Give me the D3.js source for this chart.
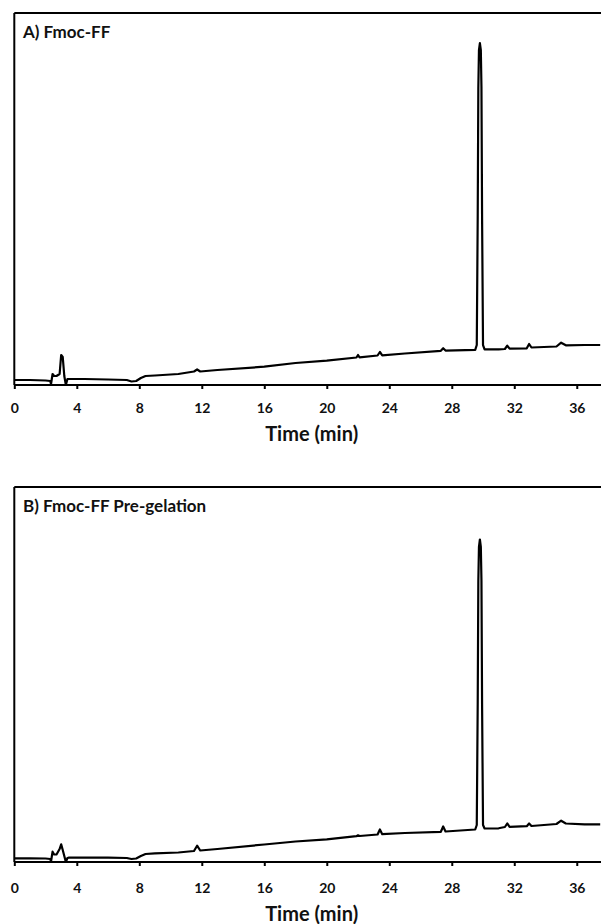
<!DOCTYPE html>
<html>
<head>
<meta charset="utf-8">
<script src="https://cdn.jsdelivr.net/npm/d3@7"></script>
<style>
  html, body { margin: 0; padding: 0; background: #fff; }
  svg { display: block; }
  text { font-family: Lato, "Open Sans", "Liberation Sans", sans-serif; font-weight: bold; fill: #111; }
</style>
</head>
<body>
<svg id="chart" width="601" height="924"></svg>
<script>
// ---- Data (retention time in min, detector signal in % of panel height) ----
const times = [0, 1.0, 2.0, 2.3, 2.35, 2.45, 2.55, 2.7, 2.9, 3.0, 3.1, 3.2, 3.3, 3.4, 3.5, 4.5, 6.0, 7.2, 7.5, 7.8,
  8.1, 8.4, 9.0, 10.5, 11.5, 11.7, 11.9, 13, 16, 18, 20, 21.9, 22.0, 22.1, 23.25, 23.4, 23.55, 25, 27.3, 27.45,
  27.6, 29.5, 29.6, 29.66, 29.7, 29.74, 29.8, 29.86, 29.9, 29.94, 30.0, 30.1, 31, 31.4, 31.55, 31.7, 32.8, 32.95, 33.1,
  34.7, 35.0, 35.3, 36.5, 37.5];

const signalA = [1.34, 1.34, 1.21, 1.08, 0.27, 2.96, 2.42, 2.42, 2.96, 8.06, 7.53, 2.42, 0, 1.61, 1.61, 1.61, 1.48, 1.34, 0.94, 1.08,
  1.88, 2.42, 2.55, 2.96, 3.63, 4.17, 3.63, 4.03, 4.92, 5.91, 6.53, 7.39, 8.06, 7.45, 7.93, 8.87, 7.98, 8.47, 9.19, 9.87,
  9.25, 9.46, 10.75, 45.0, 80.0, 90.0, 91.9, 90.0, 80.0, 45.0, 10.75, 9.6, 9.6, 9.68, 10.56, 9.76, 9.87, 11.02, 10.08,
  10.35, 11.37, 10.67, 10.75, 10.75];

const signalB = [0.99, 0.99, 0.93, 0.8, 0.13, 2.75, 2.0, 2.0, 3.47, 4.72, 3.2, 1.6, 0, 1.07, 1.15, 1.15, 1.15, 1.07, 0.8, 0.93,
  1.6, 2.13, 2.32, 2.53, 2.93, 4.35, 3.07, 3.47, 4.67, 5.47, 6.05, 6.88, 7.12, 6.93, 7.33, 8.67, 7.41, 7.73, 8.05, 9.47,
  8.13, 8.67, 9.87, 42.0, 75.0, 84.0, 86.0, 84.0, 75.0, 42.0, 9.87, 8.93, 8.99, 9.33, 10.27, 9.39, 9.55, 10.27, 9.6,
  10.13, 11.01, 10.27, 10.05, 10.05];

const tickValues = [0, 4, 8, 12, 16, 20, 24, 28, 32, 36];
const tickLabels = ["0", "4", "8", "12", "16", "20", "24", "28", "32", "36"];
const panelTitles = ["A) Fmoc-FF", "B) Fmoc-FF Pre-gelation"];
const xLabel = "Time (min)";

// ---- Layout ----
const svg = d3.select("#chart");
const W = 601;
const left = 14.3, right = 600.2;
const panels = [
  { title: panelTitles[0], values: signalA, top: 13, bottom: 385, pad: 14, labelOff: 56 },
  { title: panelTitles[1], values: signalB, top: 487, bottom: 862, pad: 17, labelOff: 59 }
];

const x = d3.scaleLinear().domain([0, 37.5]).range([left, right]);

panels.forEach((p, i) => {
  const g = svg.append("g");
  const y = d3.scaleLinear().domain([0, 100]).range([p.bottom, p.top]);

  const clipId = "clip" + i;
  svg.append("clipPath").attr("id", clipId)
    .append("rect").attr("x", left).attr("y", p.top - 2).attr("width", W - left).attr("height", p.bottom - p.top + 2);

  // trace
  const data = times.map((t, k) => [t, p.values[k]]);
  const line = d3.line().x(d => x(d[0])).y(d => y(d[1])).curve(d3.curveLinear);
  g.append("path")
    .datum(data)
    .attr("clip-path", `url(#${clipId})`)
    .attr("d", line)
    .attr("fill", "none")
    .attr("stroke", "#000")
    .attr("stroke-width", 2.2)
    .attr("stroke-linejoin", "round");

  // frame: top and left
  g.append("line").attr("x1", left).attr("x2", W).attr("y1", p.top).attr("y2", p.top)
    .attr("stroke", "#000").attr("stroke-width", 2);
  g.append("line").attr("x1", left).attr("x2", left).attr("y1", p.top).attr("y2", p.bottom)
    .attr("stroke", "#000").attr("stroke-width", 2);

  // x axis
  const axis = d3.axisBottom(x)
    .tickValues(tickValues)
    .tickFormat((d, k) => tickLabels[k])
    .tickSize(4)
    .tickPadding(p.pad)
    .tickSizeOuter(0);
  const ax = g.append("g").attr("transform", `translate(0,${p.bottom})`).call(axis);
  ax.select(".domain").attr("stroke", "#000").attr("stroke-width", 2).attr("d", `M${left},0H${W}`);
  ax.selectAll(".tick line").attr("stroke", "#000").attr("stroke-width", 2);
  ax.selectAll(".tick text").attr("font-size", 14).attr("font-family", "Lato, 'Open Sans', sans-serif")
    .attr("font-weight", "bold").attr("fill", "#111");

  // x label
  g.append("text")
    .attr("x", (left + W) / 2 + 4)
    .attr("y", p.bottom + p.labelOff)
    .attr("text-anchor", "middle")
    .attr("font-size", 20)
    .text(xLabel);

  // panel title
  g.append("text")
    .attr("x", 23)
    .attr("y", p.top + 25)
    .attr("font-size", 17)
    .text(p.title);
});
</script>
</body>
</html>
